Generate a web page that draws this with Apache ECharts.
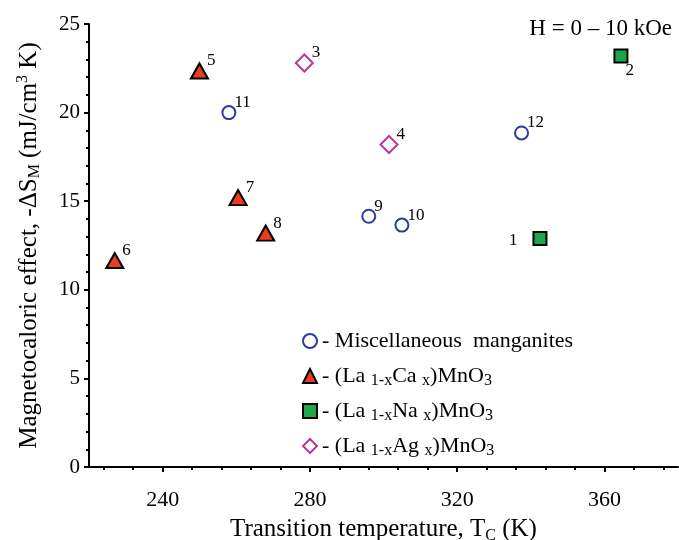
<!DOCTYPE html>
<html>
<head>
<meta charset="utf-8">
<script src="https://cdn.jsdelivr.net/npm/echarts@6/dist/echarts.min.js"></script>
<style>html,body{margin:0;padding:0;background:#fff}#c{width:679px;height:540px}</style>
</head>
<body>
<div id="c"></div>
<script>
// ---- data ----
var miscT = [258, 296, 305, 337.5];
var miscS = [20.0, 14.15, 13.65, 18.85];
var miscLabels = ['11', '9', '10', '12'];

var caT = [250, 227, 260.5, 268];
var caS = [22.35, 11.65, 15.2, 13.2];
var caLabels = ['5', '6', '7', '8'];

var naT = [342.5, 364.5];
var naS = [12.9, 23.2];
var naLabels = ['1', '2'];

var agT = [278.5, 301.5];
var agS = [22.8, 18.2];
var agLabels = ['3', '4'];

var seriesNames = ['Miscellaneous manganites', '(La1-xCax)MnO3', '(La1-xNax)MnO3', '(La1-xAgx)MnO3'];
var legendRich = [
  '- Miscellaneous  manganites',
  '- (La {sub|1-x}Ca {sub|x})MnO{sub|3}',
  '- (La {sub|1-x}Na {sub|x})MnO{sub|3}',
  '- (La {sub|1-x}Ag {sub|x})MnO{sub|3}'
];
var xMajorTicks = [240, 280, 320, 360];
var xMinorTicks = [224, 232, 248, 256, 264, 272, 288, 296, 304, 312, 328, 336, 344, 352, 368, 376];

// ---- build ----
var FONT = '"Liberation Serif", "DejaVu Serif", serif';
var labelOverrides = {
  '1': { position: 'left', distance: 5, offset: [-10, 2] },
  '2': { position: 'right', distance: 0, offset: [-3, 15] }
};
function pts(xs, ys, labels) {
  return xs.map(function (x, i) {
    var item = { value: [x, ys[i]], name: labels[i] };
    if (labelOverrides[labels[i]]) item.label = labelOverrides[labels[i]];
    return item;
  });
}
var pointLabel = {
  show: true, position: 'right', distance: 0, offset: [-2, -10],
  formatter: '{b}', color: '#000', fontFamily: FONT, fontSize: 17
};
var subStyle = { fontFamily: FONT, fontSize: 16, color: '#000', lineHeight: 16, verticalAlign: 'bottom', padding: [6, 0, 0, 0] };
var supStyle = { fontFamily: FONT, fontSize: 16, color: '#000', lineHeight: 16, verticalAlign: 'top' };

var chart = echarts.init(document.getElementById('c'));
chart.setOption({
  animation: false,
  backgroundColor: '#fff',
  title: {
    text: 'H = 0 \u2013 10 kOe', right: 2, top: 12,
    textStyle: { fontFamily: FONT, fontSize: 23, fontWeight: 'normal', color: '#000' }
  },
  grid: { left: 89, right: 1, top: 24, bottom: 73, containLabel: false, outerBoundsMode: 'none' },
  legend: {
    orient: 'vertical', left: 297, top: 323,
    itemWidth: 14, itemHeight: 14, itemGap: 9,
    data: seriesNames,
    formatter: function (name) { return legendRich[seriesNames.indexOf(name)]; },
    textStyle: {
      fontFamily: FONT, fontSize: 22, color: '#000', lineHeight: 26,
      rich: { sub: subStyle }
    }
  },
  xAxis: [{
    type: 'value', min: 220, max: 380,
    name: 'Transition temperature, T{sub|C} (K)',
    nameLocation: 'middle', nameGap: 48,
    nameTextStyle: { fontFamily: FONT, fontSize: 25, color: '#000', lineHeight: 28, rich: { sub: subStyle } },
    axisLine: { show: true, onZero: false, lineStyle: { color: '#000', width: 2 } },
    axisTick: { show: true, length: 5, customValues: xMajorTicks, lineStyle: { color: '#000', width: 2 } },
    axisLabel: { customValues: xMajorTicks, margin: 22, fontFamily: FONT, fontSize: 22, color: '#000' },
    splitLine: { show: false }
  }, {
    type: 'value', min: 220, max: 380, position: 'bottom',
    axisLine: { show: false },
    axisTick: { show: true, length: 3, customValues: xMinorTicks, lineStyle: { color: '#000', width: 2 } },
    axisLabel: { show: false },
    splitLine: { show: false }
  }],
  yAxis: {
    type: 'value', min: 0, max: 25, interval: 5,
    name: 'Magnetocaloric effect, -\u0394S{sub|M} (mJ/cm{sup|3} K)',
    nameLocation: 'middle', nameGap: 46, nameRotate: 90,
    nameTextStyle: { fontFamily: FONT, fontSize: 25, color: '#000', lineHeight: 28, rich: { sub: subStyle, sup: supStyle } },
    axisLine: { show: true, onZero: false, lineStyle: { color: '#000', width: 2 } },
    axisTick: { show: true, length: 5, lineStyle: { color: '#000', width: 2 } },
    minorTick: { show: true, splitNumber: 5, length: 3, lineStyle: { color: '#000', width: 2 } },
    axisLabel: { margin: 9, fontFamily: FONT, fontSize: 21, color: '#000' },
    splitLine: { show: false }
  },
  series: [{
    name: seriesNames[0], type: 'scatter', symbol: 'circle', symbolSize: 13,
    itemStyle: { color: '#fff', borderColor: '#2b3d98', borderWidth: 2, opacity: 1 },
    label: pointLabel, data: pts(miscT, miscS, miscLabels)
  }, {
    name: seriesNames[1], type: 'scatter', symbol: 'triangle', symbolSize: [17, 15],
    itemStyle: { color: '#ec3d1d', borderColor: '#000', borderWidth: 2, opacity: 1 },
    label: pointLabel, data: pts(caT, caS, caLabels)
  }, {
    name: seriesNames[2], type: 'scatter', symbol: 'rect', symbolSize: 13,
    itemStyle: { color: '#1ea64b', borderColor: '#000', borderWidth: 2, opacity: 1 },
    label: pointLabel, data: pts(naT, naS, naLabels)
  }, {
    name: seriesNames[3], type: 'scatter', symbol: 'diamond', symbolSize: 17,
    itemStyle: { color: '#fff', borderColor: '#b8389c', borderWidth: 2, opacity: 1 },
    label: pointLabel, data: pts(agT, agS, agLabels)
  }]
});
</script>
</body>
</html>
